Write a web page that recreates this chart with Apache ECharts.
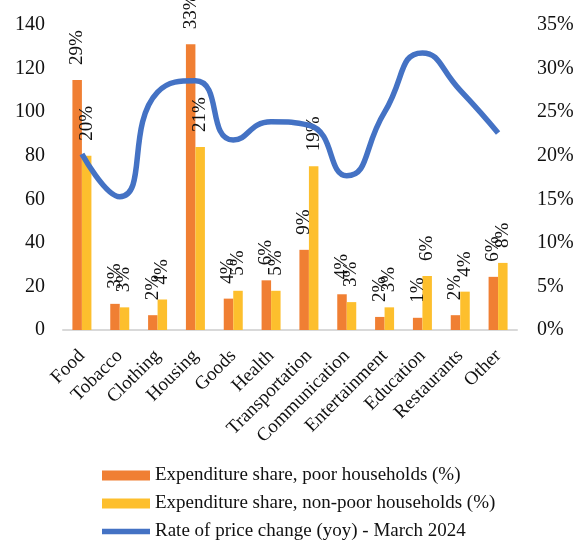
<!DOCTYPE html>
<html>
<head>
<meta charset="utf-8">
<script src="https://cdn.jsdelivr.net/npm/echarts@6/dist/echarts.min.js"></script>
<style>
  html, body { margin: 0; padding: 0; background: #fff; }
  #main { width: 577px; height: 541px; }
</style>
</head>
<body>
<div id="main"></div>
<script>
// categories and values (percent)
var categories = ['Food', 'Tobacco', 'Clothing', 'Housing', 'Goods', 'Health',
  'Transportation', 'Communication', 'Entertainment', 'Education', 'Restaurants', 'Other'];
var poorShare = [28.7, 3.0, 1.7, 32.8, 3.6, 5.7, 9.2, 4.1, 1.5, 1.4, 1.7, 6.1];
var nonPoorShare = [20.0, 2.6, 3.5, 21.0, 4.5, 4.5, 18.8, 3.2, 2.6, 6.2, 4.4, 7.7];
var priceChange = [20.2, 15.3, 27.3, 28.6, 21.8, 23.9, 23.5, 17.7, 25.0, 31.8, 27.5, 22.6];

var leftTicks = { min: 0, max: 140, interval: 20 };
var rightTicks = { min: 0, max: 35, interval: 5 };

var serif = "'Liberation Serif', 'Times New Roman', serif";

var myChart = echarts.init(document.getElementById('main'));

function barLabel() {
  return {
    show: true,
    position: 'top',
    rotate: 90,
    align: 'left',
    verticalAlign: 'middle',
    distance: 15,
    color: '#111',
    fontFamily: serif,
    fontSize: 19,
    formatter: function (p) { return Math.round(p.value) + '%'; }
  };
}

// thick line legend icon: 48x10 box, filled band in the middle
var lineIcon = 'path://M0,0h0.5v0.01h-0.5z M0,2.3h48v5.4h-48z M0,9.99h0.5v0.01h-0.5z';

myChart.setOption({
  animation: false,
  textStyle: { fontFamily: serif },
  legend: {
    orient: 'vertical',
    left: 102,
    top: 466,
    height: 100,
    padding: 0,
    itemWidth: 48,
    itemHeight: 10,
    itemGap: 9,
    textStyle: { fontFamily: serif, fontSize: 19, color: '#111' },
    data: [
      { name: 'Expenditure share, poor households (%)', icon: 'rect' },
      { name: 'Expenditure share, non-poor households (%)', icon: 'rect' },
      { name: 'Rate of price change (yoy) - March 2024', icon: lineIcon }
    ]
  },
  grid: {
    left: 63,
    right: 60,
    top: 25,
    bottom: 211
  },
  xAxis: {
    type: 'category',
    data: categories,
    axisLine: { lineStyle: { color: '#d9d9d9', width: 2 } },
    axisTick: { show: false },
    axisLabel: {
      interval: 0,
      rotate: 45,
      margin: 23,
      color: '#111',
      fontFamily: serif,
      fontSize: 19
    }
  },
  yAxis: [{
    type: 'value',
    min: leftTicks.min,
    max: leftTicks.max,
    interval: leftTicks.interval,
    axisLine: { show: false },
    axisTick: { show: false },
    splitLine: { show: false },
    axisLabel: { color: '#111', fontFamily: serif, fontSize: 20, margin: 18 }
  }, {
    type: 'value',
    position: 'right',
    min: rightTicks.min,
    max: rightTicks.max,
    interval: rightTicks.interval,
    axisLine: { show: false },
    axisTick: { show: false },
    splitLine: { show: false },
    axisLabel: { color: '#111', fontFamily: serif, fontSize: 20, margin: 20, formatter: '{value}%' }
  }],
  series: [{
    name: 'Expenditure share, poor households (%)',
    type: 'bar',
    yAxisIndex: 1,
    data: poorShare,
    barWidth: 9.5,
    barGap: '0%',
    itemStyle: { color: '#F07F33' },
    label: barLabel()
  }, {
    name: 'Expenditure share, non-poor households (%)',
    type: 'bar',
    yAxisIndex: 1,
    data: nonPoorShare,
    barWidth: 9.5,
    barGap: '0%',
    itemStyle: { color: '#FDBF2D' },
    label: barLabel()
  }, {
    name: 'Rate of price change (yoy) - March 2024',
    type: 'line',
    yAxisIndex: 1,
    data: priceChange,
    smooth: 0.55,
    symbol: 'none',
    z: 5,
    lineStyle: { color: '#4472C4', width: 5.5 },
    itemStyle: { color: '#4472C4' }
  }]
});
</script>
</body>
</html>
